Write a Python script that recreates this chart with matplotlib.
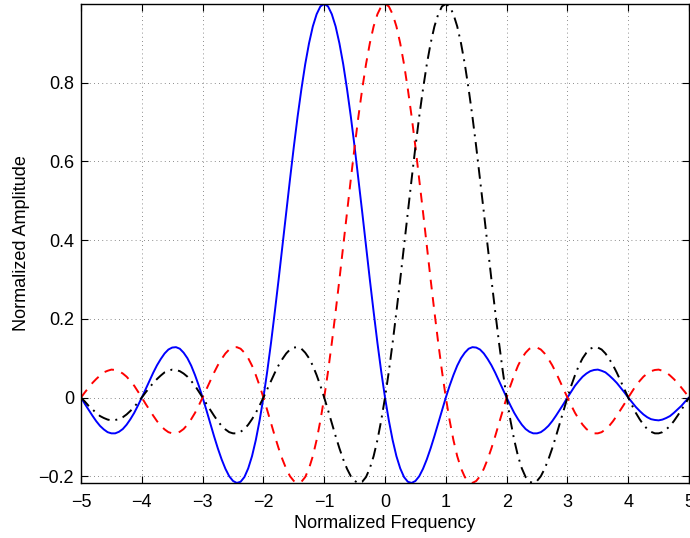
import numpy as np
import matplotlib.pyplot as plt

plt.rcParams['font.family'] = ['Liberation Sans', 'DejaVu Sans']

# ─── Datos (paso 1/16) ────────────────────────────────────────────────────────
freq = np.linspace(-5, 5, 161)

amp_blue = [0.000, -0.016, -0.031, -0.046, -0.060, -0.072, -0.081, -0.088, -0.091, -0.091, -0.087, -0.080, -0.069, -0.055, -0.039, -0.020,
            0.000, 0.021, 0.042, 0.063, 0.082, 0.098, 0.112, 0.122, 0.127, 0.128, 0.124, 0.114, 0.100, 0.081, 0.057, 0.030,
            0.000, -0.032, -0.065, -0.098, -0.129, -0.157, -0.181, -0.200, -0.212, -0.217, -0.214, -0.202, -0.180, -0.149, -0.108, -0.058,
            0.000, 0.066, 0.139, 0.218, 0.300, 0.385, 0.471, 0.555, 0.637, 0.714, 0.784, 0.847, 0.900, 0.943, 0.974, 0.994,
            1.000,
            0.994, 0.974, 0.943, 0.900, 0.847, 0.784, 0.714, 0.637, 0.555, 0.471, 0.385, 0.300, 0.218, 0.139, 0.066,
            0.000, -0.058, -0.108, -0.149, -0.180, -0.202, -0.214, -0.217, -0.212, -0.200, -0.181, -0.157, -0.129, -0.098, -0.065, -0.032,
            0.000, 0.030, 0.057, 0.081, 0.100, 0.114, 0.124, 0.128, 0.127, 0.122, 0.112, 0.098, 0.082, 0.063, 0.042, 0.021,
            0.000, -0.020, -0.039, -0.055, -0.069, -0.080, -0.087, -0.091, -0.091, -0.088, -0.081, -0.072, -0.060, -0.046, -0.031, -0.016,
            0.000, 0.015, 0.030, 0.042, 0.053, 0.061, 0.067, 0.070, 0.071, 0.068, 0.064, 0.056, 0.047, 0.037, 0.025, 0.013,
            0.000, -0.012, -0.024, -0.034, -0.043, -0.050, -0.055, -0.057, -0.058, -0.056, -0.052, -0.047, -0.039, -0.030, -0.021, -0.010,
            0.000]

amp_red = [0.000, 0.013, 0.025, 0.037, 0.047, 0.056, 0.064, 0.068, 0.071, 0.070, 0.067, 0.061, 0.053, 0.042, 0.030, 0.015,
           0.000, -0.016, -0.031, -0.046, -0.060, -0.072, -0.081, -0.088, -0.091, -0.091, -0.087, -0.080, -0.069, -0.055, -0.039, -0.020,
           0.000, 0.021, 0.042, 0.063, 0.082, 0.098, 0.112, 0.122, 0.127, 0.128, 0.124, 0.114, 0.100, 0.081, 0.057, 0.030,
           0.000, -0.032, -0.065, -0.098, -0.129, -0.157, -0.181, -0.200, -0.212, -0.217, -0.214, -0.202, -0.180, -0.149, -0.108, -0.058,
           0.000, 0.066, 0.139, 0.218, 0.300, 0.385, 0.471, 0.555, 0.637, 0.714, 0.784, 0.847, 0.900, 0.943, 0.974, 0.994,
           1.000,
           0.994, 0.974, 0.943, 0.900, 0.847, 0.784, 0.714, 0.637, 0.555, 0.471, 0.385, 0.300, 0.218, 0.139, 0.066,
           0.000, -0.058, -0.108, -0.149, -0.180, -0.202, -0.214, -0.217, -0.212, -0.200, -0.181, -0.157, -0.129, -0.098, -0.065, -0.032,
           0.000, 0.030, 0.057, 0.081, 0.100, 0.114, 0.124, 0.128, 0.127, 0.122, 0.112, 0.098, 0.082, 0.063, 0.042, 0.021,
           0.000, -0.020, -0.039, -0.055, -0.069, -0.080, -0.087, -0.091, -0.091, -0.088, -0.081, -0.072, -0.060, -0.046, -0.031, -0.016,
           0.000, 0.015, 0.030, 0.042, 0.053, 0.061, 0.067, 0.070, 0.071, 0.068, 0.064, 0.056, 0.047, 0.037, 0.025, 0.013,
           0.000]

amp_black = [0.000, -0.010, -0.021, -0.030, -0.039, -0.047, -0.052, -0.056, -0.058, -0.057, -0.055, -0.050, -0.043, -0.034, -0.024, -0.012,
             0.000, 0.013, 0.025, 0.037, 0.047, 0.056, 0.064, 0.068, 0.071, 0.070, 0.067, 0.061, 0.053, 0.042, 0.030, 0.015,
             0.000, -0.016, -0.031, -0.046, -0.060, -0.072, -0.081, -0.088, -0.091, -0.091, -0.087, -0.080, -0.069, -0.055, -0.039, -0.020,
             0.000, 0.021, 0.042, 0.063, 0.082, 0.098, 0.112, 0.122, 0.127, 0.128, 0.124, 0.114, 0.100, 0.081, 0.057, 0.030,
             0.000, -0.032, -0.065, -0.098, -0.129, -0.157, -0.181, -0.200, -0.212, -0.217, -0.214, -0.202, -0.180, -0.149, -0.108, -0.058,
             0.000, 0.066, 0.139, 0.218, 0.300, 0.385, 0.471, 0.555, 0.637, 0.714, 0.784, 0.847, 0.900, 0.943, 0.974, 0.994,
             1.000,
             0.994, 0.974, 0.943, 0.900, 0.847, 0.784, 0.714, 0.637, 0.555, 0.471, 0.385, 0.300, 0.218, 0.139, 0.066,
             0.000, -0.058, -0.108, -0.149, -0.180, -0.202, -0.214, -0.217, -0.212, -0.200, -0.181, -0.157, -0.129, -0.098, -0.065, -0.032,
             0.000, 0.030, 0.057, 0.081, 0.100, 0.114, 0.124, 0.128, 0.127, 0.122, 0.112, 0.098, 0.082, 0.063, 0.042, 0.021,
             0.000, -0.020, -0.039, -0.055, -0.069, -0.080, -0.087, -0.091, -0.091, -0.088, -0.081, -0.072, -0.060, -0.046, -0.031, -0.016,
             0.000]

xticks = [-5, -4, -3, -2, -1, 0, 1, 2, 3, 4, 5]
yticks = [-0.2, 0, 0.2, 0.4, 0.6, 0.8]
ytick_labels = ['\u22120.2', '0', '0.2', '0.4', '0.6', '0.8']

# ─── Gráfica ──────────────────────────────────────────────────────────────────
fig = plt.figure(figsize=(6.9, 5.38), dpi=100)
ax = fig.add_axes([0.1174, 0.1022, 0.8812, 0.8904])

ax.plot(freq, amp_blue, '-', color='#0000ff', lw=1.4)
ax.plot(freq, amp_red, '--', color='#ff0000', lw=1.4, dashes=(5, 4))
ax.plot(freq, amp_black, '-.', color='black', lw=1.4, dashes=(6, 3, 1, 3))

ax.set_xlim(-5, 5)
ax.set_ylim(-0.2172, 1.0)
ax.set_xticks(xticks)
ax.set_xticklabels([str(v).replace('-', '\u2212') for v in xticks])
ax.set_yticks(yticks)
ax.set_yticklabels(ytick_labels)
ax.tick_params(direction='in', top=True, right=True, labelsize=13, length=5, width=0.8)
ax.tick_params(axis='x', pad=8)
ax.tick_params(axis='y', pad=5)
ax.grid(True, color='black', linestyle=(0, (1, 4)), lw=0.6, alpha=0.6)
for s in ax.spines.values():
    s.set_linewidth(1.0)

ax.set_xlabel('Normalized Frequency', fontsize=13, labelpad=3)
ax.set_ylabel('Normalized Amplitude', fontsize=13, labelpad=6)

fig.savefig('out.png', dpi=100)
